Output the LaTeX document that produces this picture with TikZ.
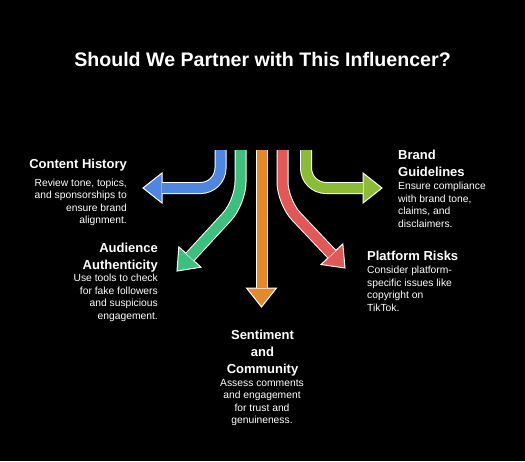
\documentclass[tikz,border=0pt]{standalone}
\usepackage{fontspec}
\setmainfont{Liberation Sans}
\usetikzlibrary{calc}

\definecolor{histblue}{HTML}{4E86E0}
\definecolor{authgreen}{HTML}{3DBF7E}
\definecolor{sentorange}{HTML}{E0892F}
\definecolor{riskred}{HTML}{E05858}
\definecolor{brandlime}{HTML}{8CBB36}

\begin{document}
\begin{tikzpicture}[x=1pt,y=-1pt,
    title/.style={font=\fontsize{19.6}{23}\selectfont\bfseries, text=white, inner sep=0pt},
    heading/.style={font=\fontsize{13}{17}\selectfont\bfseries, text=white, inner sep=0pt},
    body/.style={font=\fontsize{10.3}{12.5}\selectfont, text=white, inner sep=0pt},
    shaft/.style={draw=white, line width=1pt, double distance=10pt, double=#1, rounded corners=20pt},
    head/.style={fill=#1, draw=white, line width=1pt, line join=miter}
]
    % Background
    \useasboundingbox (0,0) rectangle (525,461);
    \fill[black] (0,0) rectangle (525,461);

    % Title
    \node[title, anchor=base] (title) at (262.5,66.5) {Should We Partner with This Influencer?};

    % Arrow end points
    \coordinate (histtop) at (220.5,150);
    \coordinate (histbend) at (220.5,188);
    \coordinate (histtip) at (143,188);
    \coordinate (authtop) at (240.5,150);
    \coordinate (authbend) at (240.5,202);
    \coordinate (authtip) at (177,271);
    \coordinate (senttop) at (261.5,150);
    \coordinate (senttip) at (261.5,307);
    \coordinate (risktop) at (282.5,150);
    \coordinate (riskbend) at (282.5,202);
    \coordinate (risktip) at (345,268);
    \coordinate (brandtop) at (306,150);
    \coordinate (brandbend) at (306,188);
    \coordinate (brandtip) at (382,188);

    % Content history arrow (blue)
    \coordinate (histbase) at ($(histtip)!19pt!(histbend)$);
    \draw[head=histblue] (histtip) -- ($(histbase)!15pt!90:(histtip)$) -- ($(histbase)!15pt!-90:(histtip)$) -- cycle;
    \draw[shaft=histblue] (histtop) -- (histbend) -- (histbase);

    % Audience authenticity arrow (green)
    \coordinate (authbase) at ($(authtip)!19pt!(authbend)$);
    \draw[head=authgreen] (authtip) -- ($(authbase)!15pt!90:(authtip)$) -- ($(authbase)!15pt!-90:(authtip)$) -- cycle;
    \draw[shaft=authgreen] (authtop) -- (authbend) -- (authbase);

    % Sentiment arrow (orange)
    \coordinate (sentbase) at ($(senttip)!19pt!(senttop)$);
    \draw[head=sentorange] (senttip) -- ($(sentbase)!15pt!90:(senttip)$) -- ($(sentbase)!15pt!-90:(senttip)$) -- cycle;
    \draw[shaft=sentorange] (senttop) -- (sentbase);

    % Platform risks arrow (red)
    \coordinate (riskbase) at ($(risktip)!19pt!(riskbend)$);
    \draw[head=riskred] (risktip) -- ($(riskbase)!15pt!90:(risktip)$) -- ($(riskbase)!15pt!-90:(risktip)$) -- cycle;
    \draw[shaft=riskred] (risktop) -- (riskbend) -- (riskbase);

    % Brand guidelines arrow (lime)
    \coordinate (brandbase) at ($(brandtip)!19pt!(brandbend)$);
    \draw[head=brandlime] (brandtip) -- ($(brandbase)!15pt!90:(brandtip)$) -- ($(brandbase)!15pt!-90:(brandtip)$) -- cycle;
    \draw[shaft=brandlime] (brandtop) -- (brandbend) -- (brandbase);

    % Content history
    \node[heading, anchor=base east] (histhead) at (127,168.6) {Content History};
    \node[body, align=right, anchor=north east] (histtext) at (127,178.7) {Review tone, topics,\\and sponsorships to\\ensure brand\\alignment.};

    % Audience authenticity
    \node[heading, align=right, anchor=north east] (authhead) at (158,242.5) {Audience\\Authenticity};
    \node[body, align=right, anchor=north east] (authtext) at (158,274) {Use tools to check\\for fake followers\\and suspicious\\engagement.};

    % Sentiment and community
    \node[heading, align=center, anchor=north] (senthead) at (262.5,330) {Sentiment\\and\\Community};
    \node[body, align=center, anchor=north] (senttext) at (262,379) {Assess comments\\and engagement\\for trust and\\genuineness.};

    % Platform risks
    \node[heading, anchor=base west] (riskhead) at (367,260.6) {Platform Risks};
    \node[body, align=left, anchor=north west] (risktext) at (367,266) {Consider platform-\\specific issues like\\copyright on\\TikTok.};

    % Brand guidelines
    \node[heading, align=left, anchor=north west] (brandhead) at (398,150) {Brand\\Guidelines};
    \node[body, align=left, anchor=north west] (brandtext) at (398,182) {Ensure compliance\\with brand tone,\\claims, and\\disclaimers.};
\end{tikzpicture}
\end{document}
